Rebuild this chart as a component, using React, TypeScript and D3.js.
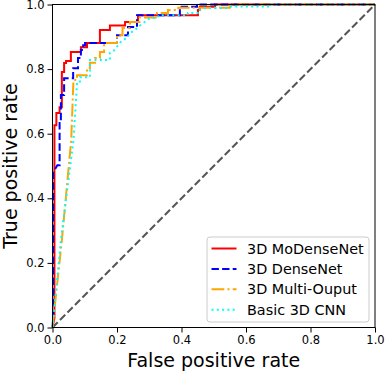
import React, { useRef, useEffect } from "react";
import * as d3 from "d3";

// tick values shared by both axes
const ticks = [0, 0.2, 0.4, 0.6, 0.8, 1.0];

// ROC points [fpr, tpr]
const moDenseNet: [number, number][] = [
  [0, 0], [0.006, 0.03], [0.006, 0.626], [0.012, 0.626], [0.012, 0.664],
  [0.022, 0.664], [0.022, 0.682], [0.029, 0.682], [0.029, 0.791],
  [0.036, 0.791], [0.036, 0.819], [0.042, 0.819], [0.042, 0.825],
  [0.057, 0.825], [0.057, 0.853], [0.088, 0.853], [0.088, 0.868],
  [0.107, 0.868], [0.107, 0.881], [0.147, 0.881], [0.147, 0.921],
  [0.178, 0.921], [0.178, 0.935], [0.225, 0.935], [0.225, 0.946],
  [0.265, 0.946], [0.265, 0.967], [0.451, 0.967], [0.451, 0.983],
  [0.457, 0.983], [0.457, 0.993], [0.504, 0.993], [0.504, 1.0], [1.0, 1.0],
];

const denseNet: [number, number][] = [
  [0, 0], [0.002, 0.03], [0.002, 0.48], [0.015, 0.502], [0.022, 0.502],
  [0.022, 0.633], [0.026, 0.633], [0.026, 0.72], [0.036, 0.72],
  [0.036, 0.772], [0.064, 0.772], [0.064, 0.803], [0.079, 0.803],
  [0.079, 0.834], [0.088, 0.834], [0.088, 0.859], [0.095, 0.859],
  [0.095, 0.874], [0.101, 0.874], [0.101, 0.881], [0.2, 0.881],
  [0.2, 0.905], [0.234, 0.905], [0.234, 0.93], [0.262, 0.93],
  [0.262, 0.967], [0.395, 0.967], [0.395, 0.993], [0.448, 0.993],
  [0.448, 1.0], [1.0, 1.0],
];

const multiOutput: [number, number][] = [
  [0, 0], [0.029, 0.27], [0.058, 0.58], [0.065, 0.766], [0.076, 0.766],
  [0.076, 0.781], [0.107, 0.781], [0.107, 0.803], [0.116, 0.803],
  [0.116, 0.82], [0.132, 0.82], [0.132, 0.834], [0.147, 0.834],
  [0.147, 0.853], [0.16, 0.853], [0.16, 0.881], [0.2, 0.881],
  [0.2, 0.905], [0.217, 0.905], [0.217, 0.927], [0.24, 0.927],
  [0.24, 0.946], [0.27, 0.946], [0.27, 0.96], [0.324, 0.96],
  [0.324, 0.974], [0.358, 0.974], [0.358, 0.983], [0.39, 0.983],
  [0.39, 0.99], [0.55, 0.99], [0.55, 1.0], [1.0, 1.0],
];

const basicCnn: [number, number][] = [
  [0, 0], [0.026, 0.27], [0.065, 0.58], [0.076, 0.757], [0.085, 0.757],
  [0.085, 0.775], [0.116, 0.775], [0.116, 0.828], [0.178, 0.828],
  [0.178, 0.85], [0.194, 0.86], [0.203, 0.874], [0.215, 0.888],
  [0.231, 0.896], [0.24, 0.912], [0.256, 0.921], [0.265, 0.93],
  [0.302, 0.958], [0.324, 0.958], [0.33, 0.967], [0.42, 0.967],
  [0.42, 0.974], [0.457, 0.974], [0.457, 0.983], [0.47, 0.989],
  [0.54, 0.989], [0.55, 0.994], [0.68, 0.994], [0.68, 1.0], [1.0, 1.0],
];

const labels = ["3D MoDenseNet", "3D DenseNet", "3D Multi-Ouput", "Basic 3D CNN"];
const colors = ["#ff0000", "#0000ff", "#ffa500", "#00ffff"];
const dashes = ["none", "7.4,3.2", "12.8,3.2,2,3.2", "2,3.3"];
const allSeries = [moDenseNet, denseNet, multiOutput, basicCnn];

const W = 386;
const H = 374;
const margin = { left: 52.5, right: 11, top: 4.5, bottom: 46.5 };
const font = "DejaVu Sans, sans-serif";

const App = () => {
  const svgRef = useRef(null);

  useEffect(() => {
    const svg = d3.select(svgRef.current);
    svg.selectAll("*").remove();

    const x = d3.scaleLinear().domain([0, 1]).range([margin.left, W - margin.right]);
    const y = d3.scaleLinear().domain([0, 1]).range([H - margin.bottom, margin.top]);

    const line = d3
      .line<[number, number]>()
      .x((d) => x(d[0]))
      .y((d) => y(d[1]));

    // chance diagonal
    svg
      .append("path")
      .attr("d", line([[0, 0], [1, 1]]))
      .attr("fill", "none")
      .attr("stroke", "#555555")
      .attr("stroke-width", 2)
      .attr("stroke-dasharray", "7.4,3.2");

    allSeries.forEach((data, i) => {
      svg
        .append("path")
        .attr("d", line(data))
        .attr("fill", "none")
        .attr("stroke", colors[i])
        .attr("stroke-width", 2)
        .attr("stroke-dasharray", dashes[i]);
    });

    // frame
    svg
      .append("rect")
      .attr("x", x(0))
      .attr("y", y(1))
      .attr("width", x(1) - x(0))
      .attr("height", y(0) - y(1))
      .attr("fill", "none")
      .attr("stroke", "#000")
      .attr("stroke-width", 1);

    const xAxis = svg
      .append("g")
      .attr("transform", `translate(0,${y(0)})`)
      .call(d3.axisBottom(x).tickValues(ticks).tickFormat(d3.format(".1f")).tickSize(5).tickPadding(3));
    const yAxis = svg
      .append("g")
      .attr("transform", `translate(${x(0)},0)`)
      .call(d3.axisLeft(y).tickValues(ticks).tickFormat(d3.format(".1f")).tickSize(5).tickPadding(3));

    [xAxis, yAxis].forEach((g) => {
      g.select(".domain").remove();
      g.selectAll("text").attr("font-family", font).attr("font-size", 11.5).attr("fill", "#000");
      g.selectAll("line").attr("stroke", "#000");
    });

    svg
      .append("text")
      .attr("x", (x(0) + x(1)) / 2)
      .attr("y", 367)
      .attr("text-anchor", "middle")
      .attr("font-family", font)
      .attr("font-size", 19)
      .text("False positive rate");

    svg
      .append("text")
      .attr("transform", `translate(17,${(y(0) + y(1)) / 2}) rotate(-90)`)
      .attr("text-anchor", "middle")
      .attr("font-family", font)
      .attr("font-size", 19)
      .text("True positive rate");

    // legend
    const legend = svg.append("g").attr("transform", "translate(207,237)");
    legend
      .append("rect")
      .attr("width", 162)
      .attr("height", 85)
      .attr("rx", 3)
      .attr("fill", "#fff")
      .attr("fill-opacity", 0.8)
      .attr("stroke", "#cccccc");

    labels.forEach((label, i) => {
      const cy = 11.5 + i * 20.4;
      legend
        .append("line")
        .attr("x1", 4.5)
        .attr("x2", 29.5)
        .attr("y1", cy)
        .attr("y2", cy)
        .attr("stroke", colors[i])
        .attr("stroke-width", 2)
        .attr("stroke-dasharray", dashes[i]);
      legend
        .append("text")
        .attr("x", 40)
        .attr("y", cy + 5)
        .attr("font-family", font)
        .attr("font-size", 14.4)
        .text(label);
    });
  }, []);

  return (
    <svg
      ref={svgRef}
      width={W}
      height={H}
      style={{ position: "absolute", left: 0, top: 0, background: "#fff" }}
    ></svg>
  );
};

export default App;
